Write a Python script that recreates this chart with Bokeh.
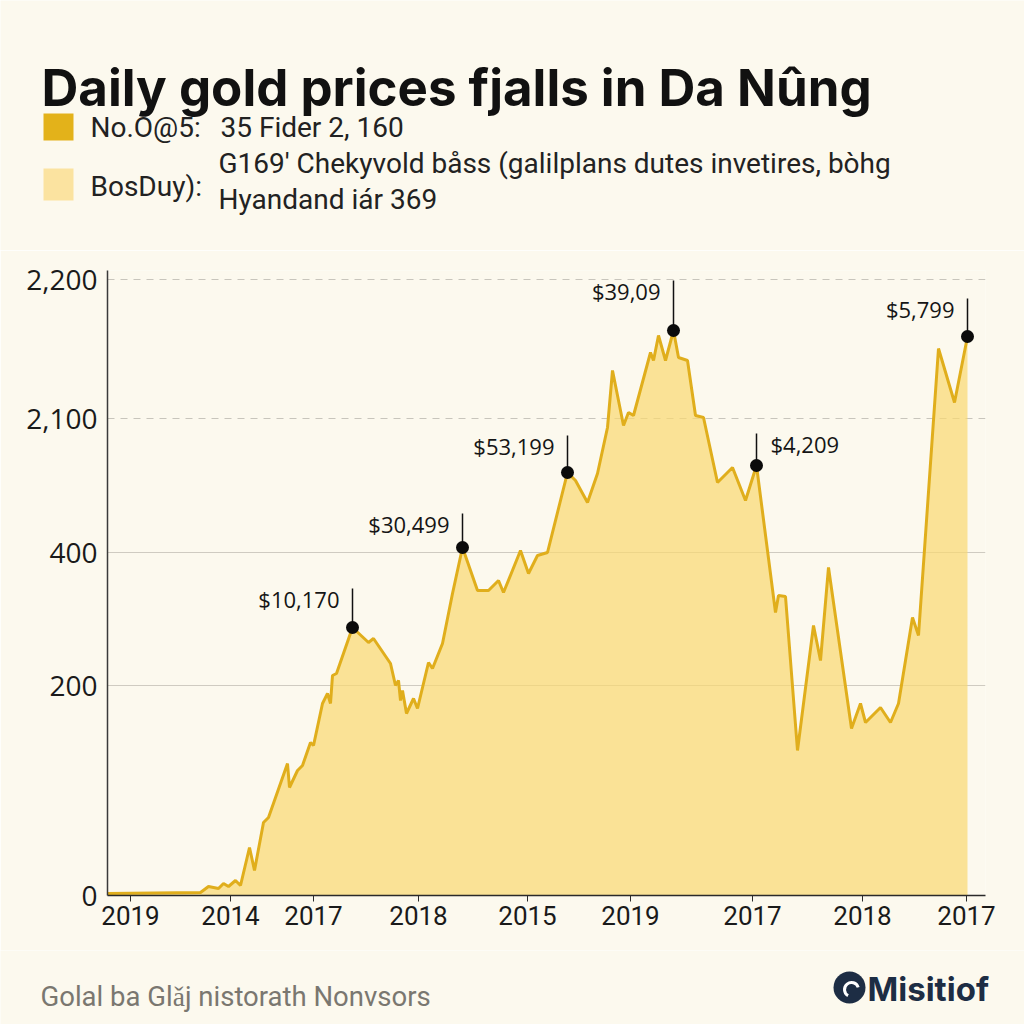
from bokeh.plotting import figure
from bokeh.layouts import column, row
from bokeh.models import Range1d, FixedTicker, Grid, ColumnDataSource
from bokeh.core.properties import value
from bokeh.embed import file_html
from bokeh.resources import INLINE

# ---------------- data ----------------
title_text = "Daily gold prices fjalls in Da Nûng"
legend_keys = ["No.O@5:", "BosDuy):"]
legend_desc_1 = ["35 Fider 2, 160"]
legend_desc_2 = ["G169' Chekyvold båss (galilplans dutes invetires, bòhg", "Hyandand iár 369"]
footer_text = "Golal ba Glǎj nistorath Nonvsors"
brand_text = "Misitiof"

# time position (chart units) and price level (chart units of the drawn scale)
days = [0, 93, 101, 111, 116, 121, 128, 133, 142, 147, 156, 161, 180, 182, 190, 195,
        203, 206, 215, 220, 223, 225, 229, 245, 261, 266, 283, 288, 291, 293, 295, 299,
        306, 310, 321, 325, 335, 345, 355, 370, 381, 391, 396, 413, 421, 430, 440, 460,
        468, 480, 490, 500, 505, 516, 521, 526, 543, 546, 551, 558, 566, 571, 580, 588,
        596, 610, 625, 638, 649, 668, 671, 678, 690, 706, 713, 721, 744, 753, 758, 773,
        783, 791, 805, 811, 831, 847, 860]
prices = [2, 3, 9, 7, 12, 9, 15, 10, 48, 25, 73, 78, 132, 108, 125, 130,
          153, 150, 192, 202, 192, 220, 222, 268, 253, 257, 232, 210, 215, 195, 205, 182,
          197, 187, 233, 227, 252, 302, 348, 305, 305, 315, 303, 345, 322, 340, 343, 423,
          415, 393, 422, 468, 525, 470, 483, 480, 543, 535, 560, 535, 565, 538, 535, 480,
          478, 413, 428, 395, 430, 283, 300, 299, 145, 270, 235, 328, 167, 192, 173, 188,
          173, 192, 278, 260, 547, 493, 559]

# annotated points (index into series) and their labels
ann_idx = [23, 38, 47, 60, 68, 86]
ann_labels = ["$10,170", "$30,499", "$53,199", "$39,09", "$4,209", "$5,799"]
ann_side = ["left", "left", "left", "left", "right", "left"]
ann_stem = [39, 34, 37, 50, 32, 38]

y_tick_vals = [0, 210, 343, 477, 616]
y_tick_labels = ["0", "200", "400", "2,100", "2,200"]
x_tick_vals = [23, 123, 206, 311, 420, 523, 645, 755, 859]
x_tick_labels = ["2019", "2014", "2017", "2018", "2015", "2019", "2017", "2018", "2017"]

# ---------------- styles ----------------
BG = "#FCF9EE"
LINE = "#E0AE1C"
FILL = "#FAD870"
DARK_SQ = "#E3B21A"
LIGHT_SQ = "#FBE3A0"
NAVY = "#1D2D44"


def blank(h, y0, y1):
    f = figure(width=1024, height=h, x_range=Range1d(0, 1024), y_range=Range1d(y1, y0),
               toolbar_location=None, output_backend="svg",
               x_axis_location=None, y_axis_location=None,
               min_border=0, min_border_left=0, min_border_right=0,
               min_border_top=0, min_border_bottom=0)
    f.grid.visible = False
    f.outline_line_color = None
    f.background_fill_color = BG
    f.border_fill_color = BG
    return f


# ---------------- header ----------------
head = blank(250, 0, 250)
head.text(x=[41], y=[87], text=[title_text], text_font=value("Inter"), text_font_style="bold",
          text_font_size="51px", text_color="#111111", text_baseline="alphabetic")
head.quad(left=[43, 43], right=[73, 73], top=[113, 168], bottom=[140, 200],
          fill_color=[DARK_SQ, LIGHT_SQ], line_color=None)
head.text(x=[90, 90], y=[127, 186], text=legend_keys, text_font=value("Roboto"),
          text_font_size="28px", text_color="#222222", text_baseline="middle")
head.text(x=[220], y=[127], text=legend_desc_1, text_font=value("Roboto"),
          text_font_size="28px", text_color="#222222", text_baseline="middle")
head.text(x=[218, 218], y=[163, 199], text=legend_desc_2, text_font=value("Roboto"),
          text_font_size="28px", text_color="#222222", text_baseline="middle")

# ---------------- main chart ----------------
p = figure(width=1024, height=700, x_range=Range1d(0, 878), y_range=Range1d(0, 625),
           toolbar_location=None, output_backend="svg",
           min_border_left=107, min_border_right=39, min_border_top=20, min_border_bottom=55)
p.background_fill_color = BG
p.border_fill_color = BG
p.outline_line_color = None
p.xgrid.visible = False
p.ygrid.visible = False

g1 = Grid(dimension=1, ticker=FixedTicker(ticks=y_tick_vals[3:]), grid_line_color="#C8C5BC",
          grid_line_dash="7 6", grid_line_width=1.2)
g2 = Grid(dimension=1, ticker=FixedTicker(ticks=y_tick_vals[1:3]), grid_line_color="#CFCBC1",
          grid_line_width=1.2)
p.add_layout(g1, "center")
p.add_layout(g2, "center")

src = ColumnDataSource(dict(x=days, y=prices))
p.varea(x="x", y1=0, y2="y", source=src, fill_color=FILL, fill_alpha=0.7)
p.line(x="x", y="y", source=src, line_color=LINE, line_width=3)

ax = [days[i] for i in ann_idx]
ay = [prices[i] for i in ann_idx]
top = [a + s for a, s in zip(ay, ann_stem)]
p.segment(x0=ax, y0=ay, x1=ax, y1=top, line_color="#111111", line_width=1.5)
p.scatter(x=ax, y=ay, size=13, fill_color="#0B0B0B", line_color=None)

for xx, tt, lab, side in zip(ax, top, ann_labels, ann_side):
    p.text(x=[xx], y=[tt - 10], text=[lab], text_font=value("Open Sans"),
           text_font_size="22px", text_color="#151515", text_baseline="middle",
           text_align="right" if side == "left" else "left",
           x_offset=-13 if side == "left" else 14)

p.yaxis.ticker = FixedTicker(ticks=y_tick_vals)
p.yaxis.major_label_overrides = {v: l for v, l in zip(y_tick_vals, y_tick_labels)}
p.yaxis.axis_line_color = "#3A3A3A"
p.yaxis.axis_line_width = 1.5
p.yaxis.major_tick_out = 0
p.yaxis.major_tick_in = 0
p.yaxis.minor_tick_out = 0
p.yaxis.minor_tick_in = 0
p.yaxis.major_label_standoff = 10
p.yaxis.major_label_text_font = "Open Sans"
p.yaxis.major_label_text_font_size = "28px"
p.yaxis.major_label_text_color = "#1A1A1A"

p.xaxis.ticker = FixedTicker(ticks=x_tick_vals)
p.xaxis.major_label_overrides = {v: l for v, l in zip(x_tick_vals, x_tick_labels)}
p.xaxis.axis_line_color = "#2A2A2A"
p.xaxis.axis_line_width = 1.5
p.xaxis.major_tick_out = 6
p.xaxis.major_tick_in = 0
p.xaxis.major_tick_line_color = "#2A2A2A"
p.xaxis.minor_tick_out = 0
p.xaxis.minor_tick_in = 0
p.xaxis.major_label_standoff = 4
p.xaxis.major_label_text_font = "Roboto"
p.xaxis.major_label_text_font_size = "26px"
p.xaxis.major_label_text_color = "#1A1A1A"

# ---------------- footer ----------------
foot = blank(74, 950, 1024)
foot.text(x=[40], y=[996], text=[footer_text], text_font=value("Roboto"),
          text_font_size="27.5px", text_color="#7A7770", text_baseline="middle")
foot.scatter(x=[849], y=[987], size=32, fill_color=NAVY, line_color=None)
foot.arc(x=[851], y=[989], radius=7, start_angle=0.3, end_angle=4.2, line_color="white", line_width=3)
foot.text(x=[867], y=[988], text=[brand_text], text_font=value("Inter"), text_font_style="bold",
          text_font_size="33px", text_color=NAVY, text_baseline="middle")

layout = column(row(head), row(p), row(foot), spacing=0)
open("out.html", "w").write(file_html(layout, INLINE))
